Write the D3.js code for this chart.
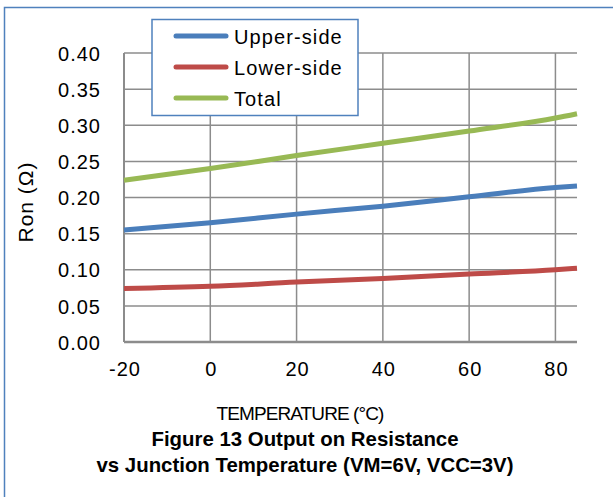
<!DOCTYPE html>
<html><head><meta charset="utf-8">
<script src="https://cdn.jsdelivr.net/npm/d3@7"></script>
<style>body{margin:0;background:#fff}svg{display:block}</style>
</head><body>
<script>
const temps = [-20, 0, 20, 40, 60, 80, 85];
const upperSide = [0.155, 0.165, 0.177, 0.188, 0.201, 0.214, 0.216];
const lowerSide = [0.074, 0.077, 0.083, 0.088, 0.094, 0.100, 0.102];
const total = [0.224, 0.240, 0.258, 0.275, 0.292, 0.310, 0.316];
const seriesNames = ["Upper-side", "Lower-side", "Total"];
const seriesColors = ["#4A7EBB", "#BE4B48", "#98B954"];
const xTicks = [-20, 0, 20, 40, 60, 80];
const yTicks = [0, 0.05, 0.10, 0.15, 0.20, 0.25, 0.30, 0.35, 0.40];
const xTitle = "TEMPERATURE (°C)";
const yTitle = "Ron (Ω)";
const figTitle = ["Figure 13 Output on Resistance", "vs Junction Temperature (VM=6V, VCC=3V)"];

const W = 613, H = 497;
const svg = d3.select("body").append("svg").attr("width", W).attr("height", H);
svg.append("rect").attr("x", 4.5).attr("y", 7.5).attr("width", 640).attr("height", 600)
  .attr("fill", "none").attr("stroke", "#4F81BD").attr("stroke-width", 1.5);

const m = {l: 124, r: 577, t: 53, b: 342};
const x = d3.scaleLinear().domain([-20, 85]).range([m.l, m.r]);
const y = d3.scaleLinear().domain([0, 0.40]).range([m.b, m.t]);

const g = svg.append("g");
g.selectAll(".hg").data(yTicks).join("line")
  .attr("x1", m.l).attr("x2", m.r).attr("y1", d => y(d)).attr("y2", d => y(d))
  .attr("stroke", "#8C8C8C").attr("stroke-width", 1.5);
g.selectAll(".vg").data(xTicks).join("line")
  .attr("x1", d => x(d)).attr("x2", d => x(d)).attr("y1", m.t).attr("y2", m.b)
  .attr("stroke", "#8C8C8C").attr("stroke-width", 1.5);
g.append("line").attr("x1", m.l).attr("x2", m.r).attr("y1", m.b).attr("y2", m.b)
  .attr("stroke", "#8C8C8C").attr("stroke-width", 2.5);
g.append("line").attr("x1", m.l).attr("x2", m.l).attr("y1", m.t).attr("y2", m.b)
  .attr("stroke", "#8C8C8C").attr("stroke-width", 2);

const font = "Liberation Sans, Arial, sans-serif";
const yAxis = d3.axisLeft(y).tickValues(yTicks).tickFormat(d3.format(".2f")).tickSize(0).tickPadding(23);
const ya = svg.append("g").attr("transform", `translate(${m.l},0)`).call(yAxis);
ya.select(".domain").remove();
ya.selectAll("text").attr("font-family", font).attr("font-size", 20).attr("letter-spacing", 1)
  .attr("fill", "#000").attr("dy", "0.36em");
const xAxis = d3.axisBottom(x).tickValues(xTicks).tickSize(0).tickFormat(d => String(d));
const xa = svg.append("g").attr("transform", `translate(0,${m.b})`).call(xAxis);
xa.select(".domain").remove();
xa.selectAll("text").attr("font-family", font).attr("font-size", 20).attr("letter-spacing", 1)
  .attr("fill", "#000").attr("y", 34).attr("dy", 0).attr("dx", 0.5);

const data = [upperSide, lowerSide, total];
const line = d3.line().x((d, i) => x(temps[i])).y(d => y(d)).curve(d3.curveMonotoneX);
svg.selectAll(".series").data(data).join("path")
  .attr("d", d => line(d)).attr("fill", "none")
  .attr("stroke", (d, i) => seriesColors[i]).attr("stroke-width", 5);

svg.append("text").attr("transform", "translate(33,202) rotate(-90)").attr("text-anchor", "middle")
  .attr("font-family", font).attr("font-size", 21).attr("letter-spacing", 1).text(yTitle);
svg.append("text").attr("x", 300).attr("y", 420).attr("text-anchor", "middle")
  .attr("font-family", font).attr("font-size", 19).attr("letter-spacing", -0.9).text(xTitle);
svg.selectAll(".ft").data(figTitle).join("text")
  .attr("x", 305).attr("y", (d, i) => 446 + i * 26).attr("text-anchor", "middle")
  .attr("font-family", font).attr("font-size", 20.4).attr("font-weight", "bold").text(d => d);

const lg = svg.append("g");
lg.append("rect").attr("x", 152).attr("y", 19.5).attr("width", 206).attr("height", 96)
  .attr("fill", "#fff").attr("stroke", "#4F81BD").attr("stroke-width", 1.5);
seriesNames.forEach((n, i) => {
  const yy = 36 + i * 31;
  lg.append("line").attr("x1", 176).attr("x2", 226).attr("y1", yy).attr("y2", yy)
    .attr("stroke", seriesColors[i]).attr("stroke-width", 5).attr("stroke-linecap", "round");
  lg.append("text").attr("x", 234).attr("y", yy + 8).attr("font-family", font)
    .attr("font-size", 20).attr("letter-spacing", 1.1).text(n);
});
</script>
</body></html>
